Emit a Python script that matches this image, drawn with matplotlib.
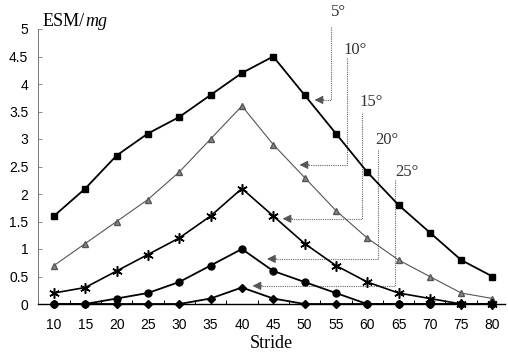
import matplotlib
matplotlib.use("Agg")
import matplotlib.pyplot as plt
import numpy as np

# Data
stride = [10, 15, 20, 25, 30, 35, 40, 45, 50, 55, 60, 65, 70, 75, 80]
esm_5 = [1.6, 2.1, 2.7, 3.1, 3.4, 3.8, 4.2, 4.5, 3.8, 3.1, 2.4, 1.8, 1.3, 0.8, 0.5]
esm_10 = [0.7, 1.1, 1.5, 1.9, 2.4, 3.0, 3.6, 2.9, 2.3, 1.7, 1.2, 0.8, 0.5, 0.2, 0.1]
esm_15 = [0.2, 0.3, 0.6, 0.9, 1.2, 1.6, 2.1, 1.6, 1.1, 0.7, 0.4, 0.2, 0.1, 0.0, 0.0]
esm_20 = [0.0, 0.0, 0.1, 0.2, 0.4, 0.7, 1.0, 0.6, 0.4, 0.2, 0.0, 0.0, 0.0, 0.0, 0.0]
esm_25 = [0.0, 0.0, 0.0, 0.0, 0.0, 0.1, 0.3, 0.1, 0.0, 0.0, 0.0, 0.0, 0.0, 0.0, 0.0]

angle_labels = ["5°", "10°", "15°", "20°", "25°"]
# (arrow tip x, arrow tip y, vertical line x, vertical top y, label x, label y)
callouts = [
    (51.6, 3.71, 54.3, 5.04, 55.4, 5.30),
    (49.2, 2.53, 56.7, 4.47, 58.1, 4.62),
    (46.5, 1.55, 59.1, 3.47, 60.6, 3.67),
    (44.0, 0.82, 61.7, 2.80, 63.2, 2.98),
    (41.7, 0.33, 64.5, 2.25, 66.4, 2.40),
]

plt.rcParams["font.family"] = ["Liberation Sans", "DejaVu Sans"]
serif = ["Liberation Serif", "DejaVu Serif"]

fig = plt.figure(figsize=(5.08, 3.63), dpi=100)
ax = fig.add_axes([38 / 508, 59 / 363, 467 / 508, 275 / 363])

ax.plot(stride, esm_5, color="black", lw=1.3, marker="s", ms=5, clip_on=False, zorder=5)
ax.plot(stride, esm_10, color="#555555", lw=0.8, marker="^", ms=5,
        mfc="#888888", mec="#555555", clip_on=False, zorder=4)
ax.plot(stride, esm_15, color="black", lw=1.2, marker=(6, 2, 0), ms=7.5, mew=1.1,
        clip_on=False, zorder=4)
ax.plot(stride, esm_20, color="black", lw=1.3, marker="o", ms=5, clip_on=False, zorder=4)
ax.plot(stride, esm_25, color="black", lw=1.3, marker="D", ms=4, clip_on=False, zorder=4)

for str_lab, (ax_x, ax_y, vx, vtop, lx, ly) in zip(angle_labels, callouts):
    ax.plot([vx, vx, ax_x + 1.2], [vtop, ax_y, ax_y], color="#666666", lw=0.8,
            ls=(0, (1, 1)), clip_on=False, zorder=3)
    ax.annotate("", xy=(ax_x, ax_y), xytext=(ax_x + 1.5, ax_y),
                arrowprops=dict(arrowstyle="-|>,head_length=0.5,head_width=0.25",
                                color="#555555", lw=0.8, shrinkA=0, shrinkB=0),
                annotation_clip=False)
    ax.text(lx, ly, str_lab, family=serif, fontsize=12,
            color="#333333", ha="center", va="center")

ax.set_xlim(7.45, 82)
ax.set_ylim(0, 5)
ax.set_xticks(stride)
ax.set_xticks(np.arange(7.5, 82, 5), minor=True)
ax.set_yticks(np.arange(0, 5.01, 0.5))
ax.set_yticklabels(["0", "0.5", "1", "1.5", "2", "2.5", "3", "3.5", "4", "4.5", "5"])

ax.spines["top"].set_visible(False)
ax.spines["right"].set_visible(False)
ax.spines["left"].set_color("#777777")
ax.spines["left"].set_linewidth(0.7)
ax.spines["bottom"].set_linewidth(1.0)

ax.tick_params(axis="x", which="major", length=0, pad=10, labelsize=10)
ax.tick_params(axis="x", which="minor", direction="in", length=3, width=0.7)
ax.tick_params(axis="y", direction="in", length=3, width=0.6, color="#777777",
               pad=7, labelsize=10)

fig.text(43 / 508, 1 - 22 / 363, "ESM/", family=serif, fontsize=13, va="center", ha="left")
fig.text(85 / 508, 1 - 22 / 363, "mg", family=serif, fontsize=13, style="italic",
         va="center", ha="left")
ax.set_xlabel("Stride", family=serif, fontsize=13, labelpad=2)

fig.savefig("out.png", dpi=100)
